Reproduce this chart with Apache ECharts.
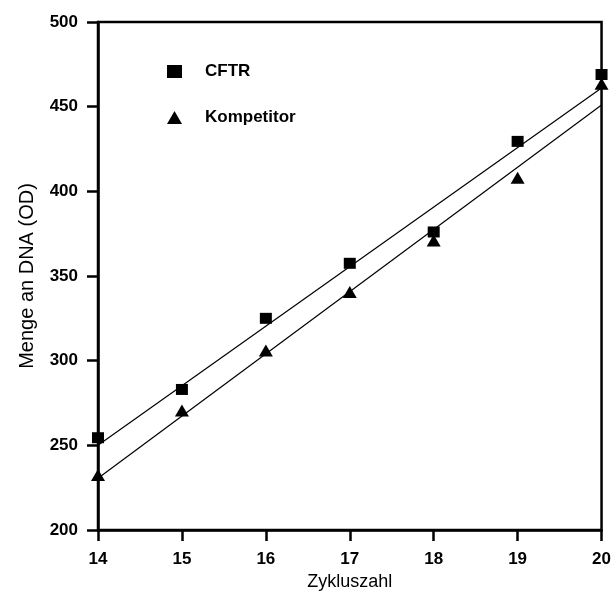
<!DOCTYPE html>
<html>
<head>
<meta charset="utf-8">
<script src="https://cdn.jsdelivr.net/npm/echarts@6/dist/echarts.min.js"></script>
<style>html,body{margin:0;padding:0;background:#fff}#c{width:614px;height:597px}</style>
</head>
<body>
<div id="c"></div>
<script>
const cycles = [14, 15, 16, 17, 18, 19, 20];
const cftr = [254.5, 283, 325, 357.5, 376, 429.5, 469];
const kompetitor = [232.5, 270.5, 306, 340.5, 371, 408, 463.5];
const cftrFit = [[14, 250], [20, 461]];
const kompFit = [[14, 230.5], [20, 451]];
const xTicks = [14, 15, 16, 17, 18, 19, 20];
const yTicks = [200, 250, 300, 350, 400, 450, 500];

const chart = echarts.init(document.getElementById('c'), null, {renderer: 'canvas'});
const pair = (xs, ys) => xs.map((x, i) => [x, ys[i]]);
const font = 'Arial, "Liberation Sans", Helvetica, sans-serif';
chart.setOption({
  animation: false,
  backgroundColor: '#fff',
  textStyle: {fontFamily: font},
  grid: {left: 98, right: 9, top: 22, bottom: 67, show: true, borderColor: '#000', borderWidth: 2.5, backgroundColor: 'transparent'},
  legend: {
    orient: 'vertical', left: 162, top: 58, itemWidth: 15, itemHeight: 13, itemGap: 29,
    symbolKeepAspect: true,
    data: ['CFTR', 'Kompetitor'],
    itemStyle: {opacity: 1},
    textStyle: {fontFamily: font, fontSize: 17, fontWeight: 'bold', color: '#000', padding: [0, 0, 0, 18]}
  },
  xAxis: {
    type: 'value', min: 14, max: 20, interval: 1,
    name: 'Zykluszahl', nameLocation: 'middle', nameGap: 41,
    nameTextStyle: {fontFamily: font, fontSize: 18, color: '#000'},
    axisLine: {show: true, lineStyle: {color: '#000', width: 2.5}},
    axisTick: {show: true, length: 11, lineStyle: {color: '#000', width: 2.5}},
    axisLabel: {margin: 21, fontFamily: font, fontSize: 17, fontWeight: 'bold', color: '#000',
      formatter: v => xTicks.includes(v) ? String(v) : ''},
    splitLine: {show: false}
  },
  yAxis: {
    type: 'value', min: 200, max: 500, interval: 50,
    name: 'Menge an DNA (OD)', nameLocation: 'middle', nameGap: 61, nameRotate: 90,
    nameTextStyle: {fontFamily: font, fontSize: 20, color: '#000'},
    axisLine: {show: true, lineStyle: {color: '#000', width: 2.5}},
    axisTick: {show: true, length: 11, lineStyle: {color: '#000', width: 2.5}},
    axisLabel: {margin: 20, fontFamily: font, fontSize: 17, fontWeight: 'bold', color: '#000',
      formatter: v => yTicks.includes(v) ? String(v) : ''},
    splitLine: {show: false}
  },
  series: [
    {type: 'line', data: cftrFit, showSymbol: false, symbol: 'none', lineStyle: {color: '#000', width: 1.2}, silent: true, z: 1},
    {type: 'line', data: kompFit, showSymbol: false, symbol: 'none', lineStyle: {color: '#000', width: 1.2}, silent: true, z: 1},
    {name: 'CFTR', type: 'scatter', data: pair(cycles, cftr), symbol: 'rect', symbolSize: [12, 11], itemStyle: {color: '#000', opacity: 1}, z: 3},
    {name: 'Kompetitor', type: 'scatter', data: pair(cycles, kompetitor), symbol: 'triangle', symbolSize: [14, 12], itemStyle: {color: '#000', opacity: 1}, z: 3}
  ]
});
</script>
</body>
</html>
